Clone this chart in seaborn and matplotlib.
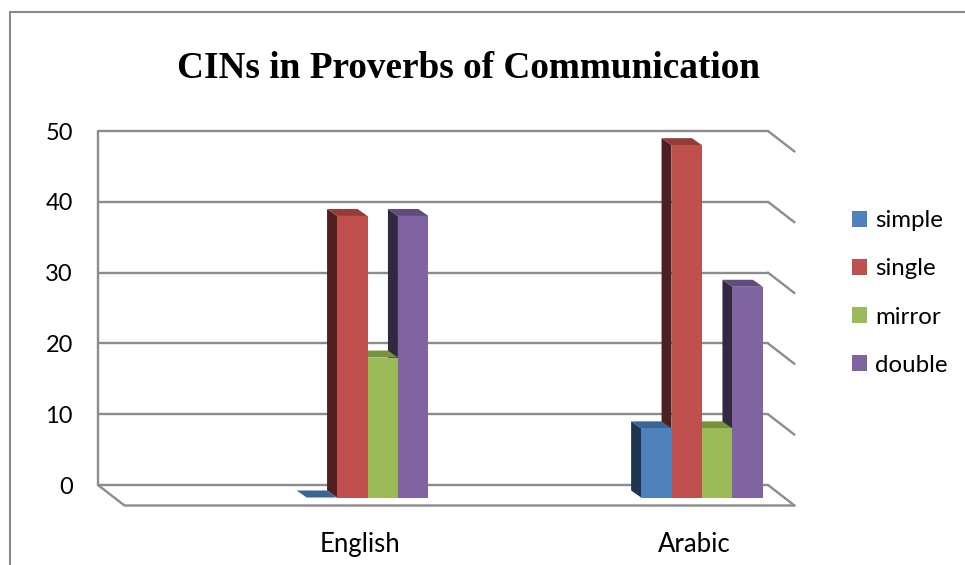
import matplotlib
matplotlib.use("Agg")
import matplotlib.pyplot as plt
import matplotlib.transforms as mtransforms
from matplotlib.patches import Polygon
from matplotlib.lines import Line2D
import numpy as np
import pandas as pd
import seaborn as sns

# Data
languages = ["English", "Arabic"]
cin_types = ["simple", "single", "mirror", "double"]
simple = [0, 8]
single = [38, 48]
mirror = [18, 8]
double = [38, 28]
y_ticks = [0, 10, 20, 30, 40, 50]

title = "CINs in Proverbs of Communication"

front_colors = ["#4F81BD", "#C0504D", "#9BBB59", "#8064A2"]
side_colors = ["#1F3552", "#4F1F1F", "#4E5E2C", "#332841"]
top_colors = ["#3B6595", "#953C39", "#76923C", "#5F4B7C"]
grid_color = "#8C8C8C"

rows = []
for t, vals in zip(cin_types, [simple, single, mirror, double]):
    for lang, v in zip(languages, vals):
        rows.append({"language": lang, "type": t, "count": v})
df = pd.DataFrame(rows)

sns.set_theme(style="white")
plt.rcParams["font.family"] = ["Lato", "DejaVu Sans"]
plt.rcParams["text.color"] = "black"

W, H = 965, 565
fig = plt.figure(figsize=(W / 100, H / 100), dpi=100)

# plot box (pixels from the top-left corner)
wall_left, wall_right = 98, 768
y_zero, y_top = 485, 131
px_per_unit = (y_zero - y_top) / 50

# Back wall with gridlines and value axis
ax_wall = fig.add_axes([wall_left / W, (H - y_zero) / H,
                        (wall_right - wall_left) / W, (y_zero - y_top) / H])
ax_wall.set_xlim(0, 1)
ax_wall.set_ylim(0, 50)
ax_wall.set_facecolor("none")
for s in ax_wall.spines.values():
    s.set_visible(False)
ax_wall.set_xticks([])
ax_wall.set_yticks(y_ticks)
ax_wall.set_yticklabels([str(v) for v in y_ticks], fontsize=17, color="black")
ax_wall.tick_params(axis="y", length=0, pad=18)

ddx, ddy = 26.5 / (wall_right - wall_left), -20.5 / px_per_unit
lw = 1.7
for v in y_ticks:
    ax_wall.plot([0, 1], [v, v], color=grid_color, lw=lw, clip_on=False, zorder=1)
    ax_wall.plot([1, 1 + ddx], [v, v + ddy], color=grid_color, lw=lw, clip_on=False, zorder=1)
ax_wall.plot([0, 0], [0, 50], color=grid_color, lw=lw, clip_on=False, zorder=1)
# floor outline
ax_wall.plot([0, ddx, 1 + ddx], [0, ddy, ddy], color=grid_color, lw=lw, clip_on=False, zorder=1)

# Bars: same vertical scale as the wall, categories 334.5 px apart
cat_px = 334.5
cat0_px = 367.5
ax = fig.add_axes([(cat0_px - 0.5 * cat_px) / W, (H - y_zero) / H,
                   2 * cat_px / W, (y_zero - y_top) / H])
sns.barplot(data=df, x="language", y="count", hue="type", order=languages,
            hue_order=cin_types, palette=front_colors, saturation=1,
            width=0.364, dodge=True, ax=ax, legend=True)
handles, labels = ax.get_legend_handles_labels()
if ax.get_legend() is not None:
    ax.get_legend().remove()
ax.set_xlim(-0.5, 1.5)
ax.set_ylim(0, 50)
ax.set_facecolor("none")
for s in ax.spines.values():
    s.set_visible(False)
ax.set_xlabel("")
ax.set_ylabel("")
ax.set_yticks([])
ax.tick_params(axis="x", length=0, pad=34, labelsize=18.5, labelcolor="black")
shift = mtransforms.ScaledTranslation(-8 / 100, 0, fig.dpi_scale_trans)
for lbl in ax.get_xticklabels():
    lbl.set_transform(lbl.get_transform() + shift)

# columns stand on the middle of the floor, below the wall's zero line
base = -12.5 / px_per_unit
dx = -10 / cat_px
dy = 7 / px_per_unit
hex_front = [c.lower() for c in front_colors]
for p in list(ax.patches):
    fc = matplotlib.colors.to_hex(p.get_facecolor()).lower()
    if fc not in hex_front:
        continue
    k = hex_front.index(fc)
    x0 = p.get_x()
    w = p.get_width()
    h = p.get_height()
    if h > 0:
        p.set_y(base)
        p.set_height(h - base)
    else:
        p.set_y(base)
        p.set_height(0)
    top_y = p.get_y() + p.get_height()
    p.set_zorder(4)
    p.set_edgecolor("none")
    p.set_clip_on(False)
    side = Polygon([(x0, base), (x0, top_y), (x0 + dx, top_y + dy), (x0 + dx, base + dy)],
                   closed=True, facecolor=side_colors[k], edgecolor="none", zorder=2,
                   clip_on=False)
    top = Polygon([(x0, top_y), (x0 + w, top_y), (x0 + w + dx, top_y + dy), (x0 + dx, top_y + dy)],
                  closed=True, facecolor=top_colors[k], edgecolor="none", zorder=3,
                  clip_on=False)
    ax.add_patch(side)
    ax.add_patch(top)

# Legend
fig.legend(handles, labels, loc="center left", bbox_to_anchor=(852 / W, 1 - 293 / H),
           frameon=False, fontsize=17.3, handlelength=0.62, handleheight=0.62,
           handletextpad=0.35, labelspacing=1.13, borderaxespad=0, borderpad=0)

# Title
fig.text(468.5 / W, 1 - 78 / H, title, ha="center", va="baseline", color="black",
         fontsize=26.8, fontweight="bold", family=["Liberation Serif", "DejaVu Serif"])

# Outer frame
fig.add_artist(Line2D([10 / W, 10 / W], [0, 1 - 12 / H], color="#8A8A8A", lw=1.5,
                      transform=fig.transFigure))
fig.add_artist(Line2D([10 / W, 1], [1 - 12 / H, 1 - 12 / H], color="#8A8A8A", lw=1.5,
                      transform=fig.transFigure))

fig.savefig("out.png", dpi=100)
